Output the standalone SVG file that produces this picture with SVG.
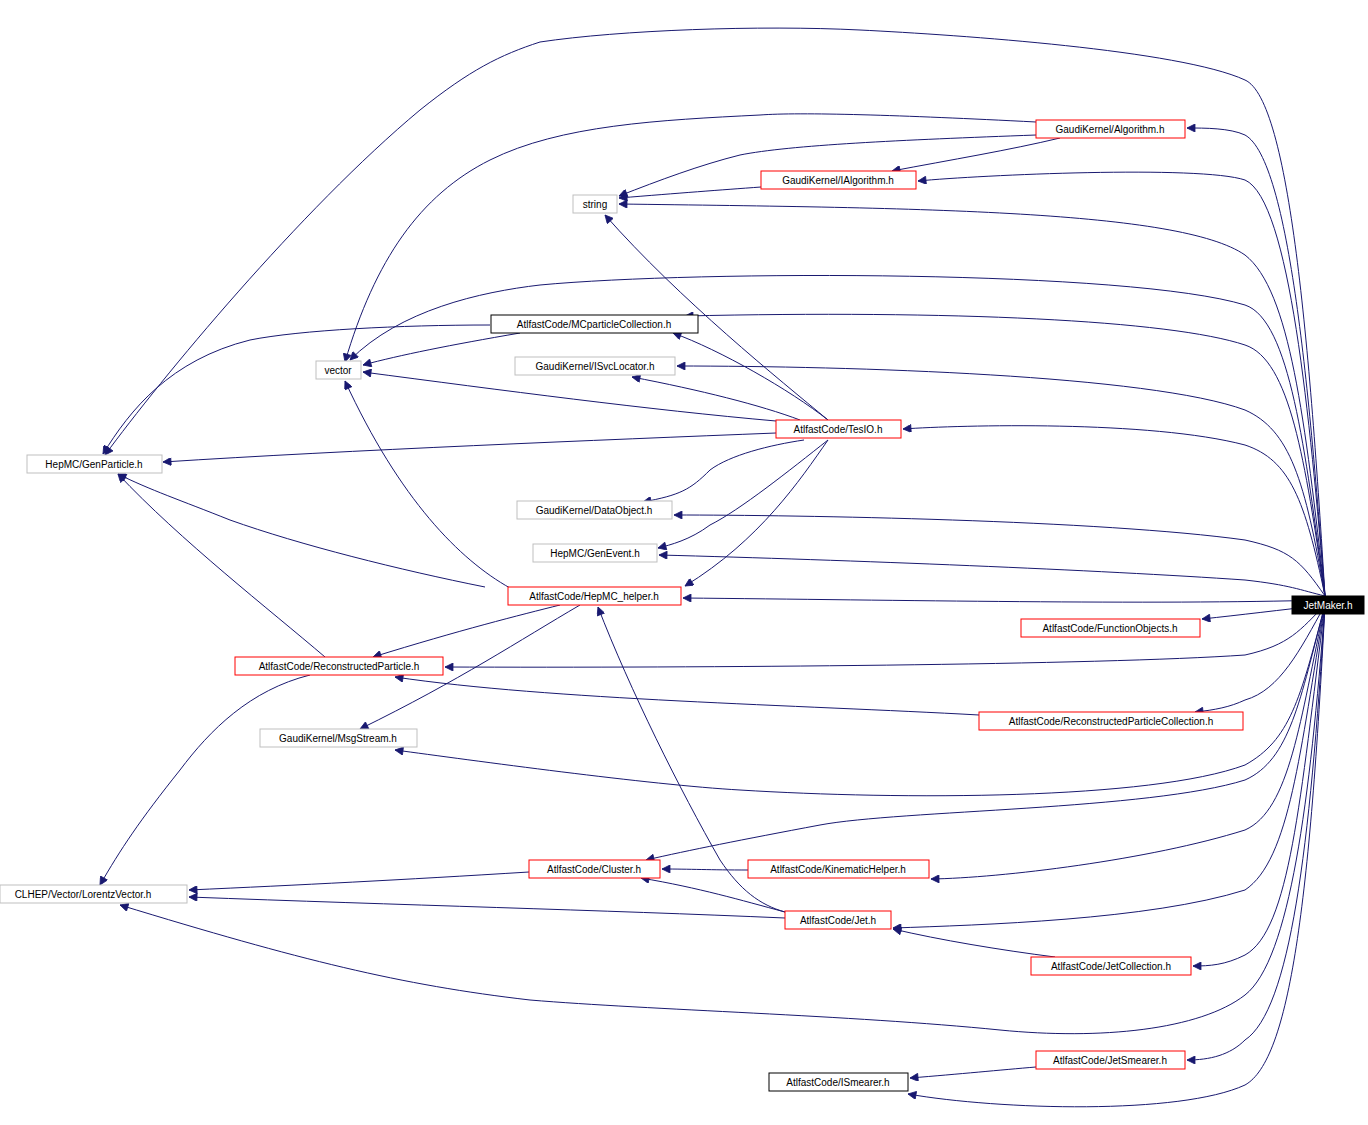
<svg xmlns="http://www.w3.org/2000/svg" width="1368" height="1125" viewBox="0 0 1368 1125">
<style>
.n rect{fill:#fff;stroke-width:1}
.r rect{stroke:#ff0000}.g rect{stroke:#bfbfbf}.b rect{stroke:#000}
text{font-family:"Liberation Sans",Arial,sans-serif;font-size:10px;fill:#000;text-anchor:middle}
#edges path{fill:none;stroke:#191970;stroke-width:1;marker-end:url(#a)}
</style>
<defs><marker id="a" viewBox="0 0 10 10" refX="10" refY="5" markerWidth="10" markerHeight="8" orient="auto" markerUnits="userSpaceOnUse"><path d="M0,0L10,5L0,10z" fill="#191970" stroke="#191970"/></marker></defs>
<rect width="1368" height="1125" fill="#fff"/>
<g id="edges">
<path d="M1325,596C1310,400 1290,160 1245,135C1230,128 1205,128 1187,128"/>
<path d="M1325,596C1310,420 1290,200 1245,180C1200,165 980,175 918,181"/>
<path d="M1325,596C1305,420 1290,290 1245,255C1180,210 920,208 619,204"/>
<path d="M1325,596C1310,350 1290,100 1245,80C1180,50 960,35 860,30C760,25 620,30 540,42C500,55 470,70 420,110C300,210 160,380 105,455"/>
<path d="M1325,596C1305,460 1290,360 1245,345C1170,320 950,310 685,316"/>
<path d="M1325,596C1305,450 1290,320 1245,305C1130,270 700,270 540,285C480,292 400,310 350,360"/>
<path d="M1325,596C1305,480 1290,430 1245,410C1150,375 850,366 677,366"/>
<path d="M1325,596C1305,500 1290,460 1245,445C1150,420 960,425 903,429"/>
<path d="M1325,596C1300,560 1290,550 1245,540C1100,520 800,515 674,515"/>
<path d="M1325,596C1300,590 1290,585 1245,580C1100,570 850,560 659,555"/>
<path d="M1325,600C1150,605 900,600 683,598"/>
<path d="M1325,605C1280,610 1240,615 1202,619"/>
<path d="M1325,605C1300,630 1290,645 1245,655C1100,665 700,668 445,667"/>
<path d="M1325,605C1300,650 1280,690 1245,700C1230,707 1215,710 1195,712"/>
<path d="M1325,605C1300,700 1290,740 1245,765C1150,800 900,800 740,790C650,785 470,760 395,750"/>
<path d="M1325,605C1300,700 1290,760 1245,780C1150,810 900,810 820,825C740,840 690,850 646,860"/>
<path d="M1325,605C1300,720 1290,810 1245,830C1150,860 1000,878 931,879"/>
<path d="M1325,605C1300,750 1290,860 1245,890C1150,920 980,925 893,928"/>
<path d="M1325,605C1300,800 1290,930 1245,955C1225,965 1210,966 1193,966"/>
<path d="M1325,605C1310,800 1290,960 1245,995C1200,1030 1100,1040 1000,1030C850,1015 650,1010 530,1000C400,985 300,960 120,905"/>
<path d="M1325,605C1310,850 1290,1010 1245,1040C1230,1055 1210,1060 1187,1060"/>
<path d="M1325,605C1310,900 1290,1060 1245,1085C1180,1115 1000,1110 908,1094"/>
<path d="M1060,138C1010,150 950,160 892,171"/>
<path d="M1036,135C900,140 790,145 740,155C700,165 660,180 619,196"/>
<path d="M1036,122C900,115 800,112 760,115C660,120 560,125 490,160C420,195 375,260 345,362"/>
<path d="M761,187C720,190 680,193 619,198"/>
<path d="M828,420C780,380 680,300 605,215"/>
<path d="M828,420C790,390 720,350 673,333"/>
<path d="M800,420C760,405 700,390 632,377"/>
<path d="M776,421C650,410 500,390 363,372"/>
<path d="M776,433C600,440 350,450 163,462"/>
<path d="M804,440C770,445 730,455 710,470C690,490 680,495 643,502"/>
<path d="M828,440C790,470 740,510 710,525C690,540 670,545 658,548"/>
<path d="M828,440C800,480 760,540 685,586"/>
<path d="M510,588C460,560 400,500 345,381"/>
<path d="M485,587C400,570 300,545 230,520C180,500 150,490 118,474"/>
<path d="M560,605C520,615 460,630 373,657"/>
<path d="M580,605C520,640 460,680 360,729"/>
<path d="M325,657C270,610 180,540 118,474"/>
<path d="M310,675C250,690 210,730 180,770C140,820 120,850 100,885"/>
<path d="M490,325C400,325 300,330 250,340C170,360 130,410 103,454"/>
<path d="M520,333C450,345 400,355 363,365"/>
<path d="M979,715C800,705 550,700 395,677"/>
<path d="M529,872C400,880 300,885 189,890"/>
<path d="M748,870C710,870 690,869 662,869"/>
<path d="M785,912C740,900 700,888 641,878"/>
<path d="M785,918C600,910 400,905 189,897"/>
<path d="M785,912C760,905 740,890 720,860C680,790 630,690 598,607"/>
<path d="M1055,957C1000,950 940,940 893,929"/>
<path d="M1036,1067C1000,1070 960,1074 910,1078"/>
</g>
<g id="algorithm" class="n r"><rect x="1036" y="120" width="149" height="18"/><text x="1110" y="133">GaudiKernel/Algorithm.h</text></g>
<g id="ialgorithm" class="n r"><rect x="761" y="171" width="155" height="18"/><text x="838" y="184">GaudiKernel/IAlgorithm.h</text></g>
<g id="string" class="n g"><rect x="573" y="195" width="44" height="18"/><text x="595" y="208">string</text></g>
<g id="mcpc" class="n b"><rect x="491" y="315" width="207" height="18"/><text x="594" y="328">AtlfastCode/MCparticleCollection.h</text></g>
<g id="vector" class="n g"><rect x="316" y="361" width="45" height="18"/><text x="338" y="374">vector</text></g>
<g id="isvc" class="n g"><rect x="515" y="357" width="160" height="18"/><text x="595" y="370">GaudiKernel/ISvcLocator.h</text></g>
<g id="tesio" class="n r"><rect x="776" y="420" width="125" height="18"/><text x="838" y="433">AtlfastCode/TesIO.h</text></g>
<g id="genparticle" class="n g"><rect x="27" y="455" width="135" height="18"/><text x="94" y="468">HepMC/GenParticle.h</text></g>
<g id="dataobject" class="n g"><rect x="517" y="501" width="155" height="18"/><text x="594" y="514">GaudiKernel/DataObject.h</text></g>
<g id="genevent" class="n g"><rect x="533" y="544" width="124" height="18"/><text x="595" y="557">HepMC/GenEvent.h</text></g>
<g id="hepmchelper" class="n r"><rect x="508" y="587" width="173" height="18"/><text x="594" y="600">AtlfastCode/HepMC_helper.h</text></g>
<g id="jetmaker"><rect x="1292" y="596" width="72" height="18" fill="#000" stroke="#000"/><text x="1328" y="609" style="fill:#fff">JetMaker.h</text></g>
<g id="funcobj" class="n r"><rect x="1021" y="619" width="179" height="18"/><text x="1110" y="632">AtlfastCode/FunctionObjects.h</text></g>
<g id="recpart" class="n r"><rect x="235" y="657" width="208" height="18"/><text x="339" y="670">AtlfastCode/ReconstructedParticle.h</text></g>
<g id="recpartcoll" class="n r"><rect x="979" y="712" width="264" height="18"/><text x="1111" y="725">AtlfastCode/ReconstructedParticleCollection.h</text></g>
<g id="msgstream" class="n g"><rect x="260" y="729" width="157" height="18"/><text x="338" y="742">GaudiKernel/MsgStream.h</text></g>
<g id="lorentz" class="n g"><rect x="0" y="885" width="187" height="18"/><text x="83" y="898">CLHEP/Vector/LorentzVector.h</text></g>
<g id="cluster" class="n r"><rect x="529" y="860" width="131" height="18"/><text x="594" y="873">AtlfastCode/Cluster.h</text></g>
<g id="kinhelper" class="n r"><rect x="748" y="860" width="181" height="18"/><text x="838" y="873">AtlfastCode/KinematicHelper.h</text></g>
<g id="jet" class="n r"><rect x="785" y="911" width="106" height="18"/><text x="838" y="924">AtlfastCode/Jet.h</text></g>
<g id="jetcoll" class="n r"><rect x="1031" y="957" width="160" height="18"/><text x="1111" y="970">AtlfastCode/JetCollection.h</text></g>
<g id="jetsmearer" class="n r"><rect x="1036" y="1051" width="149" height="18"/><text x="1110" y="1064">AtlfastCode/JetSmearer.h</text></g>
<g id="ismearer" class="n b"><rect x="769" y="1073" width="139" height="18"/><text x="838" y="1086">AtlfastCode/ISmearer.h</text></g>
</svg>
